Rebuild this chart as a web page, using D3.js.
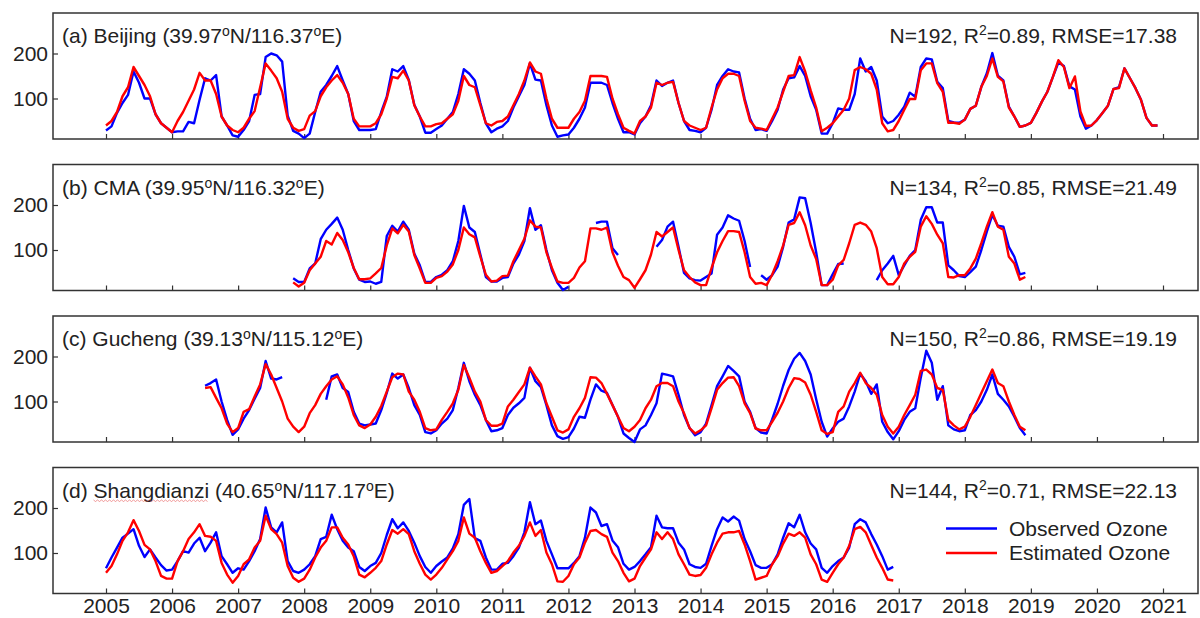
<!DOCTYPE html>
<html lang="en">
<head>
<meta charset="utf-8">
<title>Observed vs estimated ozone</title>
<script src="https://cdn.jsdelivr.net/npm/d3@7"></script>
<style>
  body { margin: 0; background: #fff; }
  text { font-family: "Liberation Sans", Arial, sans-serif; fill: #222; }
</style>
</head>
<body>
<script>
// monthly values, one array per station and series (null = no observation)
var years = d3.range(2005, 2022);
var yTicks = [100, 200];

var beijingStart = 2005;
var beijingObs = [
  29, 38, 68, 90, 108, 160, 135, 100, 100, 65, 45, 35,
  25, 27, 27, 48, 45, 97, 145, 140, 152, 60, 40, 18,
  15, 30, 50, 108, 110, 192, 200, 196, 182, 62, 28, 22,
  12, 22, 70, 115, 130, 150, 172, 140, 110, 50, 30, 30,
  30, 32, 70, 104, 165, 160, 172, 141, 86, 60, 24, 24,
  32, 40, 55, 70, 110, 165, 155, 140, 90, 45, 25, 33,
  38, 50, 80, 105, 130, 178, 142, 140, 85, 40, 15, 18,
  20, 35, 55, 80, 135, 135, 135, 130, 90, 55, 25, 25,
  20, 45, 60, 85, 140, 128, 135, 140, 90, 50, 30, 28,
  25, 35, 75, 130, 150, 165, 160, 158, 100, 55, 30, 32,
  28, 50, 75, 120, 145, 147, 172, 150, 105, 75, 22, 22,
  45, 78, 75, 75, 110, 189, 160, 170, 140, 60, 45, 50,
  64, 82, 113, 104, 170, 189, 187, 137, 123, 50, 47, 46,
  53, 77, 84, 126, 156, 201, 151, 140, 82, 60, 37, 40,
  46, 68, 93, 115, 148, 180, 172, 127, 120, 60, 33, 40,
  52, 68, 84, 121, 125, 167, 145, 123, 97, 57, 40, 40
];
var beijingEst = [
  40, 50, 70, 105, 125, 170, 150, 130, 105, 65, 45, 35,
  25, 50, 70, 95, 120, 157, 140, 140, 110, 60, 40, 30,
  25, 35, 55, 72, 125, 178, 162, 145, 115, 55, 35, 28,
  32, 62, 72, 105, 125, 140, 152, 135, 110, 55, 38, 38,
  38, 45, 65, 100, 148, 145, 162, 140, 85, 60, 38, 38,
  43, 45, 55, 65, 95, 150, 130, 125, 85, 45, 40, 48,
  50, 60, 85, 110, 140, 180, 160, 155, 100, 55, 35, 35,
  35, 55, 70, 95, 150, 150, 150, 148, 100, 65, 35, 28,
  22, 50, 60, 80, 135, 130, 135, 137, 90, 50, 40, 35,
  30, 35, 80, 120, 145, 155, 155, 150, 95, 50, 35, 33,
  30, 55, 80, 115, 150, 152, 192, 160, 118, 80, 27, 35,
  45, 60, 75, 100, 163, 170, 165, 155, 120, 45, 27, 30,
  50, 75, 99, 99, 163, 178, 178, 134, 115, 46, 46, 44,
  53, 77, 84, 126, 150, 189, 148, 138, 80, 60, 37, 40,
  46, 68, 93, 115, 148, 185, 170, 123, 149, 71, 39, 40,
  52, 68, 84, 121, 123, 167, 145, 123, 97, 57, 40, 40
];

var cmaStart = 2007 + 10 / 12;
var cmaObs = [
  37, 29,
  29, 59, 70, 124, 145, 158, 172, 145, 100, 59, 34, 29,
  30, 25, 29, 131, 154, 141, 163, 145, 92, 66, 29, 29,
  40, 45, 55, 75, 120, 198, 150, 140, 90, 40, 30, 30,
  38, 40, 70, 90, 120, 193, 145, 155, 100, 55, 27, 11,
  18, null, null, null, null, 160, 163, 163, 104, 89, null, null,
  null, null, null, null, 107, 122, 152, 163, 107, 49, 37, 33,
  32, 40, 48, 134, 150, 177, 170, 165, 120, 62, null, 44,
  34, 44, 63, 107, 161, 168, 217, 215, 160, 95, 22, 22,
  46, 69, 70, null, null, null, null, null, 33, 55, 70, 87,
  44, 66, 87, 100, 167, 195, 195, 161, 161, 66, 55, 42,
  40, 51, 63, 100, 141, 178, 154, 152, 107, 85, 46, 49
];
var cmaEst = [
  28, 19,
  27, 55, 70, 85, 120, 112, 138, 122, 95, 60, 35, 35,
  37, 48, 60, 110, 148, 137, 156, 141, 89, 59, 27, 27,
  38, 42, 52, 68, 100, 150, 135, 128, 85, 45, 30, 32,
  42, 43, 75, 100, 125, 166, 152, 150, 95, 60, 30, 27,
  27, 38, 61, 75, 148, 148, 145, 150, 95, 65, 40, 33,
  16, 35, 55, 90, 140, 130, 140, 150, 100, 55, 40, 28,
  22, 22, 60, 95, 120, 142, 142, 140, 95, 40, 25, 27,
  22, 45, 75, 110, 156, 160, 184, 155, 110, 80, 22, 22,
  34, 66, 78, 115, 156, 161, 156, 141, 104, 40, 24, 24,
  40, 70, 85, 96, 152, 175, 158, 134, 115, 40, 39, 44,
  44, 59, 81, 115, 152, 184, 152, 145, 85, 70, 34, 40
];

var guchengStart = 2006 + 6 / 12;
var guchengObs = [
  135, 141, 149, 100, 59, 26,
  38, 62, 81, 106, 130, 190, 151, 149, 154, null, null, null,
  null, null, null, null, 104, 156, 160, 130, 121, 77, 51, 47,
  49, 51, 81, 119, 162, 151, 160, 130, 92, 70, 32, 29,
  36, 51, 62, 81, 130, 186, 145, 115, 92, 59, 34, 36,
  41, 70, 86, 96, 108, 175, 145, 132, 92, 47, 23, 17,
  21, 40, 66, 64, 104, 138, 124, 119, 92, 66, 29, 19,
  10, 38, 47, 70, 96, 162, 159, 156, 115, 70, 41, 25,
  32, 51, 92, 134, 156, 179, 168, 156, 100, 77, 41, 31,
  29, 60, 95, 135, 170, 195, 208, 190, 160, 105, 55, 22,
  40, 55, 62, 89, 122, 162, 145, 117, 138, 55, 32, 16,
  34, 59, 77, 85, 153, 213, 186, 104, 134, 47, 38, 34,
  36, 70, 81, 100, 126, 160, 117, 104, 89, 66, 41, 25
];
var guchengEst = [
  130, 132, 108, 85, 51, 32,
  41, 77, 83, 111, 138, 183, 160, 130, 100, 62, 44, 32,
  44, 74, 92, 117, 134, 149, 156, 138, 109, 70, 47, 41,
  49, 66, 90, 122, 154, 162, 160, 122, 104, 77, 41, 36,
  38, 59, 77, 96, 126, 181, 153, 122, 100, 59, 46, 46,
  51, 89, 104, 121, 138, 175, 156, 138, 96, 66, 36, 31,
  38, 66, 85, 108, 154, 153, 141, 117, 92, 66, 41, 34,
  44, 59, 85, 104, 134, 141, 141, 134, 100, 74, 41, 29,
  36, 47, 85, 126, 141, 153, 154, 134, 96, 74, 40, 36,
  36, 55, 75, 100, 130, 152, 150, 142, 115, 77, 36, 28,
  32, 77, 89, 122, 141, 164, 141, 130, 115, 70, 44, 29,
  44, 70, 92, 115, 168, 171, 160, 130, 126, 59, 47, 38,
  44, 66, 92, 119, 145, 171, 141, 134, 100, 70, 44, 36
];

var shangStart = 2005;
var shangObs = [
  66, 90, 112, 134, 143, 153, 116, 91, 108, 90, 73, 61,
  63, 82, 104, 101, 121, 134, 104, 123, 146, 93, 75, 56,
  66, 63, 82, 104, 131, 201, 157, 146, 168, 82, 60, 56,
  63, 75, 93, 131, 136, 185, 153, 127, 112, 104, 69, 60,
  71, 78, 100, 140, 175, 155, 168, 149, 123, 93, 69, 56,
  71, 81, 90, 110, 142, 207, 220, 133, 127, 90, 63, 63,
  76, 78, 93, 112, 146, 213, 164, 172, 127, 97, 66, 66,
  66, 78, 93, 134, 201, 190, 160, 164, 128, 113, 76, 63,
  69, 82, 97, 113, 183, 157, 155, 155, 123, 108, 75, 69,
  67, 76, 116, 153, 179, 170, 181, 172, 131, 104, 73, 67,
  67, 75, 97, 134, 166, 157, 185, 146, 121, 108, 67, 56,
  71, 82, 90, 112, 164, 175, 168, 142, 119, 93, 63, 69
];
var shangEst = [
  56, 71, 97, 127, 146, 173, 149, 118, 108, 82, 49, 43,
  43, 82, 104, 131, 146, 164, 138, 136, 127, 78, 52, 34,
  49, 75, 86, 112, 127, 183, 153, 142, 123, 71, 45, 36,
  43, 63, 90, 112, 127, 157, 157, 134, 119, 93, 52, 46,
  56, 67, 82, 119, 151, 143, 153, 142, 104, 76, 52, 41,
  52, 67, 86, 104, 127, 179, 143, 134, 104, 78, 56, 60,
  71, 82, 101, 116, 138, 168, 138, 151, 101, 75, 37, 36,
  49, 75, 90, 123, 149, 151, 142, 136, 101, 82, 56, 37,
  43, 71, 90, 108, 146, 131, 146, 131, 97, 75, 52, 49,
  51, 67, 97, 123, 143, 146, 146, 149, 119, 82, 41, 45,
  49, 75, 93, 121, 143, 138, 146, 134, 97, 75, 41, 36,
  56, 75, 90, 116, 153, 158, 146, 118, 90, 67, 41, 39
];

var panels = [
  { tag: "(a) Beijing (39.97", lat: "N/116.37", n: 192, r2: "0.89", rmse: "17.38", start: beijingStart, obs: beijingObs, est: beijingEst },
  { tag: "(b) CMA (39.95", lat: "N/116.32", n: 134, r2: "0.85", rmse: "21.49", start: cmaStart, obs: cmaObs, est: cmaEst },
  { tag: "(c) Gucheng (39.13", lat: "N/115.12", n: 150, r2: "0.86", rmse: "19.19", start: guchengStart, obs: guchengObs, est: guchengEst },
  { tag: "(d) Shangdianzi (40.65", lat: "N/117.17", n: 144, r2: "0.71", rmse: "22.13", start: shangStart, obs: shangObs, est: shangEst }
];

var w = 1200, h = 618;
var left = 53, right = 1198;
var panelH = 126, firstTop = 13, step = 151.5;

var svg = d3.select("body").append("svg")
  .attr("width", w)
  .attr("height", h);

var x = d3.scaleLinear()
  .domain([2005, 2021])
  .range([106, 1163]);

function series(start, values) {
  return values.map(function(v, i) { return { t: start + i / 12, v: v }; });
}

panels.forEach(function(p, i) {
  var top = firstTop + i * step;
  var y = d3.scaleLinear().domain([10, 290]).range([top + panelH, top]);
  var g = svg.append("g");

  // x ticks pointing inward, labels only on the last panel
  var xAxis = d3.axisBottom(x)
    .tickValues(years)
    .tickSize(-5)
    .tickPadding(5)
    .tickFormat(i === panels.length - 1 ? d3.format("d") : "");
  var gx = g.append("g")
    .attr("transform", "translate(0," + (top + panelH) + ")")
    .call(xAxis);

  var yAxis = d3.axisLeft(y)
    .tickValues(yTicks)
    .tickSize(-5)
    .tickPadding(5);
  var gy = g.append("g")
    .attr("transform", "translate(" + left + ",0)")
    .call(yAxis);

  [gx, gy].forEach(function(a) {
    a.select(".domain").remove();
    a.selectAll(".tick line").attr("stroke", "#333").attr("stroke-width", 1.2);
    a.selectAll(".tick text")
      .style("font-size", "21px")
      .style("font-family", "'Liberation Sans', Arial, sans-serif")
      .attr("fill", "#222");
  });

  g.append("rect")
    .attr("x", left)
    .attr("y", top)
    .attr("width", right - left)
    .attr("height", panelH)
    .attr("fill", "none")
    .attr("stroke", "#333")
    .attr("stroke-width", 1.5);

  var line = d3.line()
    .defined(function(d) { return d.v != null; })
    .x(function(d) { return x(d.t); })
    .y(function(d) { return y(d.v); });

  g.append("path")
    .datum(series(p.start, p.obs))
    .attr("d", line)
    .attr("fill", "none")
    .attr("stroke", "#0000ff")
    .attr("stroke-width", 2.4)
    .attr("stroke-linejoin", "round");

  g.append("path")
    .datum(series(p.start, p.est))
    .attr("d", line)
    .attr("fill", "none")
    .attr("stroke", "#ff0000")
    .attr("stroke-width", 2.4)
    .attr("stroke-linejoin", "round");

  // panel label with the degree "o"
  var title = g.append("text")
    .attr("x", 62)
    .attr("y", top + 30)
    .style("font-size", "21px");
  title.append("tspan").text(p.tag);
  title.append("tspan").attr("dy", -7).style("font-size", "14px").text("o");
  title.append("tspan").attr("dy", 7).text(p.lat);
  title.append("tspan").attr("dy", -7).style("font-size", "14px").text("o");
  title.append("tspan").attr("dy", 7).text("E)");

  if (i === 3) {
    // red spell-check squiggle under the station name
    var node = title.node();
    var x0 = node.getStartPositionOfChar(4).x;
    var x1 = node.getEndPositionOfChar(14).x;
    var yy = top + 33;
    var pts = d3.range(x0, x1, 2).map(function(xx, k) { return [xx, yy + (k % 2 ? 1 : -0.5)]; });
    g.append("path")
      .attr("d", d3.line()(pts))
      .attr("fill", "none")
      .attr("stroke", "#e03030")
      .attr("stroke-opacity", 0.6)
      .attr("stroke-width", 0.8);
  }

  var stats = g.append("text")
    .attr("x", 1177)
    .attr("y", top + 30)
    .attr("text-anchor", "end")
    .style("font-size", "21px");
  stats.append("tspan").text("N=" + p.n + ", R");
  stats.append("tspan").attr("dy", -8).style("font-size", "14px").text("2");
  stats.append("tspan").attr("dy", 8).text("=" + p.r2 + ", RMSE=" + p.rmse);
});

// legend in the last panel
var legend = [
  { name: "Observed Ozone", color: "#0000ff", y: 528.5 },
  { name: "Estimated Ozone", color: "#ff0000", y: 553 }
];
var lg = svg.append("g");
lg.selectAll("line")
  .data(legend)
  .enter()
  .append("line")
  .attr("x1", 946)
  .attr("x2", 997)
  .attr("y1", function(d) { return d.y; })
  .attr("y2", function(d) { return d.y; })
  .attr("stroke", function(d) { return d.color; })
  .attr("stroke-width", 2.4);
lg.selectAll("text")
  .data(legend)
  .enter()
  .append("text")
  .attr("x", 1009)
  .attr("y", function(d) { return d.y + 7; })
  .style("font-size", "21px")
  .text(function(d) { return d.name; });
</script>
</body>
</html>
